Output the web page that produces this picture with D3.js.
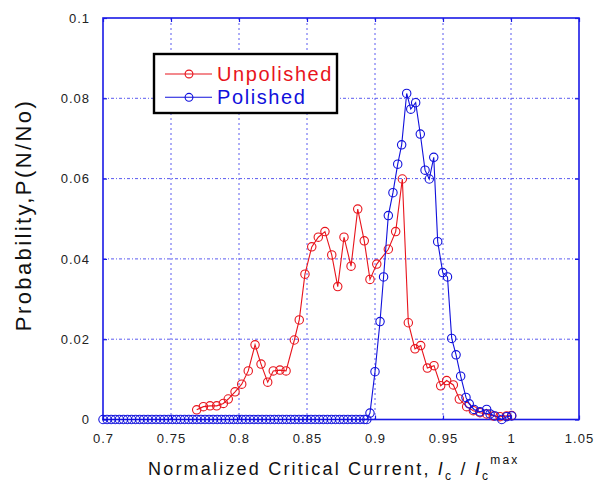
<!DOCTYPE html>
<html>
<head>
<meta charset="utf-8">
<script src="https://cdn.jsdelivr.net/npm/d3@7/dist/d3.min.js"></script>
<style>
  html, body { margin: 0; padding: 0; background: #fff; }
  svg { display: block; font-family: Arial, "Liberation Sans", sans-serif; }
</style>
</head>
<body>
<svg id="chart" width="603" height="486"></svg>
<script>
// Normalized critical current Ic/Ic^max (x) and probability P(N/No) (y)
const unpolishedX = [0.7689, 0.7738, 0.7787, 0.7836, 0.7885, 0.7921, 0.7971, 0.8020, 0.8068, 0.8118,
  0.8162, 0.8211, 0.8252, 0.8301, 0.8346, 0.8407, 0.8443, 0.8485, 0.8535, 0.8583,
  0.8632, 0.8682, 0.8726, 0.8772, 0.8824, 0.8873, 0.8921, 0.8963, 0.9013, 0.9098,
  0.9152, 0.9201, 0.9245, 0.9294, 0.9336, 0.9385, 0.9434, 0.9483, 0.9527, 0.9576,
  0.9620, 0.9674, 0.9723, 0.9772, 0.9821, 0.9870, 0.9919, 0.9968, 1.0005];
const unpolishedP = [0.0024, 0.0032, 0.0034, 0.0034, 0.0040, 0.0051, 0.0069, 0.0088, 0.0121, 0.0186,
  0.0138, 0.0093, 0.0121, 0.0123, 0.0121, 0.0198, 0.0248, 0.0362, 0.0430, 0.0454,
  0.0468, 0.0410, 0.0331, 0.0454, 0.0382, 0.0524, 0.0445, 0.0349, 0.0387, 0.0424,
  0.0468, 0.0599, 0.0241, 0.0176, 0.0184, 0.0128, 0.0134, 0.0084, 0.0097, 0.0086,
  0.0051, 0.0032, 0.0022, 0.0017, 0.0014, 0.0009, 0.0007, 0.0009, 0.0010];

// Polished: flat zero run from 0.700 to 0.894 (step 0.003), then the peak
const polishedZeroX = [0.700, 0.703, 0.706, 0.709, 0.712, 0.715, 0.718, 0.721, 0.724, 0.727,
  0.730, 0.733, 0.736, 0.739, 0.742, 0.745, 0.748, 0.751, 0.754, 0.757,
  0.760, 0.763, 0.766, 0.769, 0.772, 0.775, 0.778, 0.781, 0.784, 0.787,
  0.790, 0.793, 0.796, 0.799, 0.802, 0.805, 0.808, 0.811, 0.814, 0.817,
  0.820, 0.823, 0.826, 0.829, 0.832, 0.835, 0.838, 0.841, 0.844, 0.847,
  0.850, 0.853, 0.856, 0.859, 0.862, 0.865, 0.868, 0.871, 0.874, 0.877,
  0.880, 0.883, 0.886, 0.889, 0.892, 0.894];
const polishedPeakX = [0.8963, 0.9000, 0.9037, 0.9063, 0.9098, 0.9132, 0.9167, 0.9196, 0.9233, 0.9263,
  0.9299, 0.9333, 0.9368, 0.9399, 0.9432, 0.9461, 0.9498, 0.9533, 0.9564, 0.9596,
  0.9630, 0.9669, 0.9693, 0.9728, 0.9772, 0.9821, 0.9846, 0.9882, 0.9932, 0.9968, 1.0005];
const polishedPeakP = [0.0016, 0.0119, 0.0244, 0.0355, 0.0508, 0.0565, 0.0636, 0.0684, 0.0812, 0.0773,
  0.0789, 0.0711, 0.0621, 0.0599, 0.0653, 0.0443, 0.0366, 0.0355, 0.0202, 0.0161,
  0.0108, 0.0055, 0.0039, 0.0025, 0.0019, 0.0025, 0.0014, 0.0009, 0.0000, 0.0007, 0.0009];

const xTicks = [0.7, 0.75, 0.8, 0.85, 0.9, 0.95, 1.0, 1.05];
const xTickLabels = ["0.7", "0.75", "0.8", "0.85", "0.9", "0.95", "1", "1.05"];
const yTicks = [0, 0.02, 0.04, 0.06, 0.08, 0.1];
const yTickLabels = ["0", "0.02", "0.04", "0.06", "0.08", "0.1"];

const seriesNames = ["Unpolished", "Polished"];
const seriesColors = ["#e8141c", "#1010dc"];

(function draw() {
  const unpolished = unpolishedX.map((x, i) => ({ x, p: unpolishedP[i] }));
  const polished = polishedZeroX.map(x => ({ x, p: 0 }))
    .concat(polishedPeakX.map((x, i) => ({ x, p: polishedPeakP[i] })));

  const svg = d3.select("#chart");
  const pL = 103, pR = 579, pT = 18, pB = 419.5;
  const x = d3.scaleLinear().domain([0.7, 1.05]).range([pL, pR]);
  const y = d3.scaleLinear().domain([0, 0.1]).range([pB, pT]);
  const frameColor = "#1a1ae6";
  const gridColor = "#5a5af0";

  // dotted grid
  const grid = svg.append("g");
  grid.selectAll("line.gx").data(xTicks.slice(1, -1)).join("line")
    .attr("class", "gx")
    .attr("x1", d => x(d)).attr("x2", d => x(d))
    .attr("y1", pT).attr("y2", pB)
    .attr("stroke", gridColor).attr("stroke-width", 1)
    .attr("stroke-dasharray", "2,3");
  grid.selectAll("line.gy").data(yTicks.slice(1, -1)).join("line")
    .attr("class", "gy")
    .attr("y1", d => y(d)).attr("y2", d => y(d))
    .attr("x1", pL).attr("x2", pR)
    .attr("stroke", gridColor).attr("stroke-width", 1)
    .attr("stroke-dasharray", "3,2,1,2");

  // axes with inward ticks
  const xAxis = svg.append("g").attr("transform", `translate(0,${pB})`)
    .call(d3.axisBottom(x).tickValues(xTicks).tickFormat((d, i) => xTickLabels[i])
      .tickSizeInner(-4).tickSizeOuter(0).tickPadding(14));
  const xAxisTop = svg.append("g").attr("transform", `translate(0,${pT})`)
    .call(d3.axisTop(x).tickValues(xTicks).tickFormat("").tickSizeInner(-4).tickSizeOuter(0));
  const yAxis = svg.append("g").attr("transform", `translate(${pL},0)`)
    .call(d3.axisLeft(y).tickValues(yTicks).tickFormat((d, i) => yTickLabels[i])
      .tickSizeInner(-4).tickSizeOuter(0).tickPadding(13));
  const yAxisRight = svg.append("g").attr("transform", `translate(${pR},0)`)
    .call(d3.axisRight(y).tickValues(yTicks).tickFormat("").tickSizeInner(-4).tickSizeOuter(0));

  [xAxis, xAxisTop, yAxis, yAxisRight].forEach(g => {
    g.select(".domain").remove();
    g.selectAll(".tick line").attr("stroke", frameColor).attr("stroke-width", 1.2);
    g.selectAll(".tick text").attr("fill", "#222").attr("font-size", 13)
      .attr("font-family", "Arial, 'Liberation Sans', sans-serif")
      .attr("letter-spacing", "1px");
  });

  // frame
  svg.append("rect").attr("x", pL).attr("y", pT)
    .attr("width", pR - pL).attr("height", pB - pT)
    .attr("fill", "none").attr("stroke", frameColor).attr("stroke-width", 1.6);

  // series
  const line = d3.line().x(d => x(d.x)).y(d => y(d.p));
  [unpolished, polished].forEach((data, k) => {
    const g = svg.append("g");
    g.append("path").datum(data).attr("d", line)
      .attr("fill", "none").attr("stroke", seriesColors[k]).attr("stroke-width", 1.1);
    g.selectAll("circle").data(data).join("circle")
      .attr("cx", d => x(d.x)).attr("cy", d => y(d.p)).attr("r", 4.2)
      .attr("fill", "none").attr("stroke", seriesColors[k]).attr("stroke-width", 1.1);
  });

  // legend
  const leg = svg.append("g");
  leg.append("rect").attr("x", 154).attr("y", 54).attr("width", 183).attr("height", 59)
    .attr("fill", "#fff").attr("stroke", "#000").attr("stroke-width", 2.4);
  seriesNames.forEach((name, k) => {
    const cy = 74 + k * 23.3;
    leg.append("line").attr("x1", 165).attr("x2", 212).attr("y1", cy).attr("y2", cy)
      .attr("stroke", seriesColors[k]).attr("stroke-width", 1.1);
    leg.append("circle").attr("cx", 189).attr("cy", cy).attr("r", 3.9)
      .attr("fill", "none").attr("stroke", seriesColors[k]).attr("stroke-width", 1.1);
    leg.append("text").attr("x", 217).attr("y", cy + 7)
      .attr("fill", seriesColors[k]).attr("font-size", 20).attr("letter-spacing", "1.6px")
      .text(name);
  });

  // axis titles
  svg.append("text")
    .attr("transform", "translate(31,215) rotate(-90)")
    .attr("text-anchor", "middle").attr("fill", "#111")
    .attr("font-size", 22).attr("letter-spacing", "2.4px")
    .text("Probability,P(N/No)");

  const xt = svg.append("text").attr("x", 148).attr("y", 475)
    .attr("fill", "#111").attr("font-size", 18).attr("letter-spacing", "2.2px");
  xt.append("tspan").text("Normalized Critical Current, ");
  xt.append("tspan").attr("font-style", "italic").text("I");
  xt.append("tspan").attr("font-size", 12).attr("dy", 5).text("c");
  xt.append("tspan").attr("dy", -5).text(" / ");
  xt.append("tspan").attr("font-style", "italic").text("I");
  xt.append("tspan").attr("font-size", 12).attr("dy", 5).text("c");
  xt.append("tspan").attr("font-size", 12).attr("dy", -16).text("max");
})();
</script>
</body>
</html>
